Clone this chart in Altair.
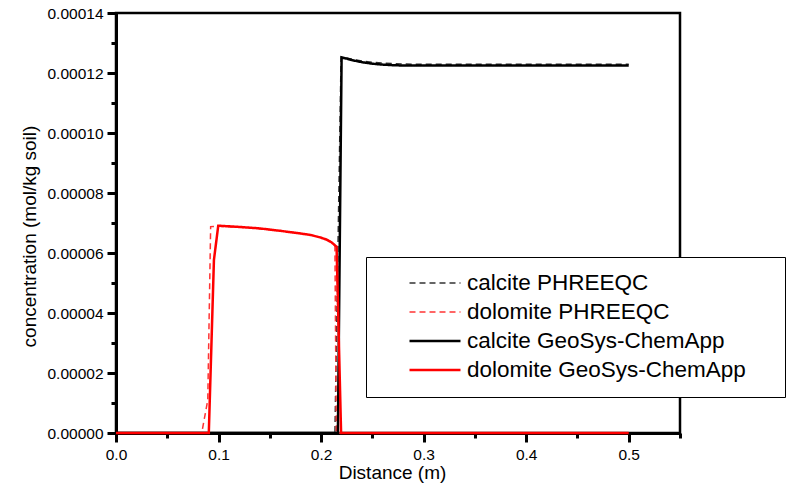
import altair as alt
import pandas as pd

# ---- data ----
series_names = ["calcite PHREEQC", "dolomite PHREEQC",
                "calcite GeoSys-ChemApp", "dolomite GeoSys-ChemApp"]
series_colors = ["#333333", "#ff3333", "#000000", "#ff0000"]
series_dash = [[6, 4], [6, 4], [1, 0], [1, 0]]
series_widths = [1.5, 1.5, 2.5, 2.5]

calcite_phreeqc_x = [0.0, 0.2135, 0.2195, 0.225, 0.23, 0.24, 0.25, 0.26, 0.28, 0.30, 0.35, 0.40, 0.45, 0.50]
calcite_phreeqc_y = [0.0, 0.0, 125.3e-6, 125.0e-6, 124.6e-6, 124.0e-6, 123.6e-6, 123.3e-6, 123.0e-6,
                     122.9e-6, 122.9e-6, 122.9e-6, 122.9e-6, 122.9e-6]

dolomite_phreeqc_x = [0.0, 0.0836, 0.0895, 0.0923, 0.10, 0.12, 0.14, 0.16, 0.18, 0.19, 0.20, 0.205,
                      0.21, 0.2135, 0.2148, 0.25, 0.30, 0.40, 0.50]
dolomite_phreeqc_y = [0.0, 0.0, 11.0e-6, 68.8e-6, 68.9e-6, 68.6e-6, 68.1e-6, 67.4e-6, 66.5e-6, 66.0e-6,
                      65.2e-6, 64.6e-6, 63.7e-6, 62.4e-6, 0.0, 0.0, 0.0, 0.0, 0.0]

calcite_geosys_x = [0.0, 0.2164, 0.2200, 0.225, 0.23, 0.24, 0.25, 0.26, 0.27, 0.28, 0.30, 0.35, 0.40, 0.45, 0.50]
calcite_geosys_y = [0.0, 0.0, 125.2e-6, 124.8e-6, 124.3e-6, 123.6e-6, 123.1e-6, 122.8e-6, 122.6e-6,
                    122.5e-6, 122.5e-6, 122.5e-6, 122.5e-6, 122.5e-6, 122.5e-6]

dolomite_geosys_x = [0.0, 0.0905, 0.0955, 0.0997, 0.12, 0.14, 0.16, 0.18, 0.19, 0.20, 0.205, 0.21,
                     0.2151, 0.2195, 0.25, 0.30, 0.40, 0.50]
dolomite_geosys_y = [0.0, 0.0, 57.7e-6, 69.1e-6, 68.7e-6, 68.2e-6, 67.4e-6, 66.5e-6, 66.0e-6, 65.1e-6,
                     64.5e-6, 63.6e-6, 62.1e-6, 0.0, 0.0, 0.0, 0.0, 0.0]

x_ticks = [0.0, 0.05, 0.1, 0.15, 0.2, 0.25, 0.3, 0.35, 0.4, 0.45, 0.5, 0.55]
y_ticks = [0.0, 0.00001, 0.00002, 0.00003, 0.00004, 0.00005, 0.00006, 0.00007,
           0.00008, 0.00009, 0.00010, 0.00011, 0.00012, 0.00013, 0.00014]

# ---- build table ----
all_x = [calcite_phreeqc_x, dolomite_phreeqc_x, calcite_geosys_x, dolomite_geosys_x]
all_y = [calcite_phreeqc_y, dolomite_phreeqc_y, calcite_geosys_y, dolomite_geosys_y]
rows = []
for name, xs, ys in zip(series_names, all_x, all_y):
    for i, (xv, yv) in enumerate(zip(xs, ys)):
        rows.append({"series": name, "x": xv, "y": yv, "idx": i})
df = pd.DataFrame(rows)

FONT = "Liberation Sans, Arial, Helvetica, sans-serif"
# blank glyphs that widen the legend box on the right
PAD = "\u00a0\u2800"

legend = alt.Legend(
    title=None, orient="none", legendX=250, legendY=244, direction="vertical",
    symbolType="stroke", symbolSize=2601, clipHeight=22, rowPadding=6,
    symbolOffset=27, labelOffset=5, padding=15,
    strokeColor="black", fillColor="white",
    labelFont=FONT, labelFontSize=22.5, labelColor="black", labelLimit=600,
    labelExpr="datum.label + '" + PAD + "'",
)

x_enc = alt.X(
    "x:Q",
    scale=alt.Scale(domain=[0, 0.55], nice=False, zero=False),
    axis=alt.Axis(
        values=x_ticks, labelFlush=False,
        labelExpr="round(datum.value*100) % 10 == 0 ? format(datum.value, '.1f') : ''",
        tickSize={"condition": {"test": "round(datum.value*100) % 10 != 0", "value": 5}, "value": 9},
        labelPadding=5, titleX=276, titleY=45, titleBaseline="alphabetic",
    ),
    title="Distance (m)",
)
y_enc = alt.Y(
    "y:Q",
    scale=alt.Scale(domain=[0, 0.00014], nice=False, zero=False),
    axis=alt.Axis(
        values=y_ticks, labelFlush=False,
        labelExpr="round(datum.value*100000) % 2 == 0 ? format(datum.value, '.5f') : ''",
        tickSize={"condition": {"test": "round(datum.value*100000) % 2 != 0", "value": 5}, "value": 9},
        labelPadding=4, titleX=-81, titleY=223, titleAngle=270, titleBaseline="alphabetic",
        titleAlign="center",
    ),
    title="concentration (mol/kg soil)",
)
color_enc = alt.Color("series:N", scale=alt.Scale(domain=series_names, range=series_colors), legend=legend)
dash_enc = alt.StrokeDash("series:N", scale=alt.Scale(domain=series_names, range=series_dash), legend=legend)
width_enc = alt.StrokeWidth("series:N", scale=alt.Scale(type="ordinal", domain=series_names, range=series_widths),
                            legend=legend)

layers = []
for name in series_names:
    layers.append(
        alt.Chart(df)
        .transform_filter(alt.datum.series == name)
        .mark_line()
        .encode(x=x_enc, y=y_enc, color=color_enc, strokeDash=dash_enc,
                strokeWidth=width_enc, order="idx:Q")
    )

chart = (
    alt.layer(*layers)
    .properties(
        width=564, height=420,
        padding={"left": 116, "top": 13, "right": 110, "bottom": 59},
        autosize=alt.AutoSizeParams(type="none"),
        background="white",
    )
    .configure_view(stroke="black", strokeWidth=2.5)
    .configure_axis(
        grid=False, domainColor="black", domainWidth=3, tickColor="black", tickWidth=3,
        labelFont=FONT, labelFontSize=15.5, labelColor="black",
        titleFont=FONT, titleFontSize=19, titleFontWeight="normal", titleColor="black",
    )
)

chart.save("out.html", embed_options={"renderer": "svg", "actions": False})
